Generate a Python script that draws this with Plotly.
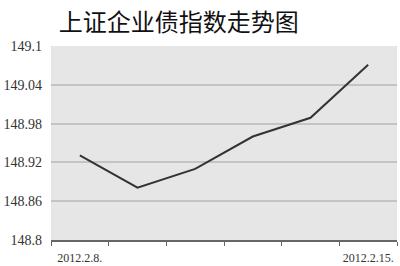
import plotly.graph_objects as go

dates = ["2012.2.8.", "2012.2.9.", "2012.2.10.", "2012.2.13.", "2012.2.14.", "2012.2.15."]
values = [148.931, 148.881, 148.910, 148.960, 148.989, 149.071]
shown_labels = ["2012.2.8.", "", "", "", "", "2012.2.15."]
y_ticks = [148.8, 148.86, 148.92, 148.98, 149.04, 149.1]
y_labels = ["148.8", "148.86", "148.92", "148.98", "149.04", "149.1"]
title = "上证企业债指数走势图"

fig = go.Figure()
fig.add_trace(go.Scatter(x=dates, y=values, mode="lines",
                         line=dict(color="#333333", width=2)))

fig.update_layout(
    width=400, height=266,
    margin=dict(l=51, r=3, t=46, b=26),
    paper_bgcolor="white",
    plot_bgcolor="#e6e6e6",
    showlegend=False,
    title=dict(text=title, x=0.447, xanchor="center", y=0.915, yanchor="middle",
               font=dict(family="Noto Sans CJK SC", size=24, color="#111111")),
    xaxis=dict(type="category", range=[-0.5, 5.5], tickson="boundaries",
               tickvals=dates, ticktext=shown_labels, tickangle=0, automargin=False,
               ticks="outside", ticklen=4, tickcolor="#666666",
               showline=True, linecolor="#666666", linewidth=1.5,
               showgrid=False, zeroline=False, ticklabelstandoff=6,
               tickfont=dict(family="Liberation Serif", size=12, color="#333333")),
    yaxis=dict(range=[148.8, 149.1], tickvals=y_ticks, ticktext=y_labels, automargin=False,
               showgrid=True, gridcolor="#c4c4c4", gridwidth=1.5,
               zeroline=False, showline=False, ticks="", ticklabelstandoff=8,
               tickfont=dict(family="Liberation Serif", size=14, color="#333333")),
)

fig.write_html("out.html")
